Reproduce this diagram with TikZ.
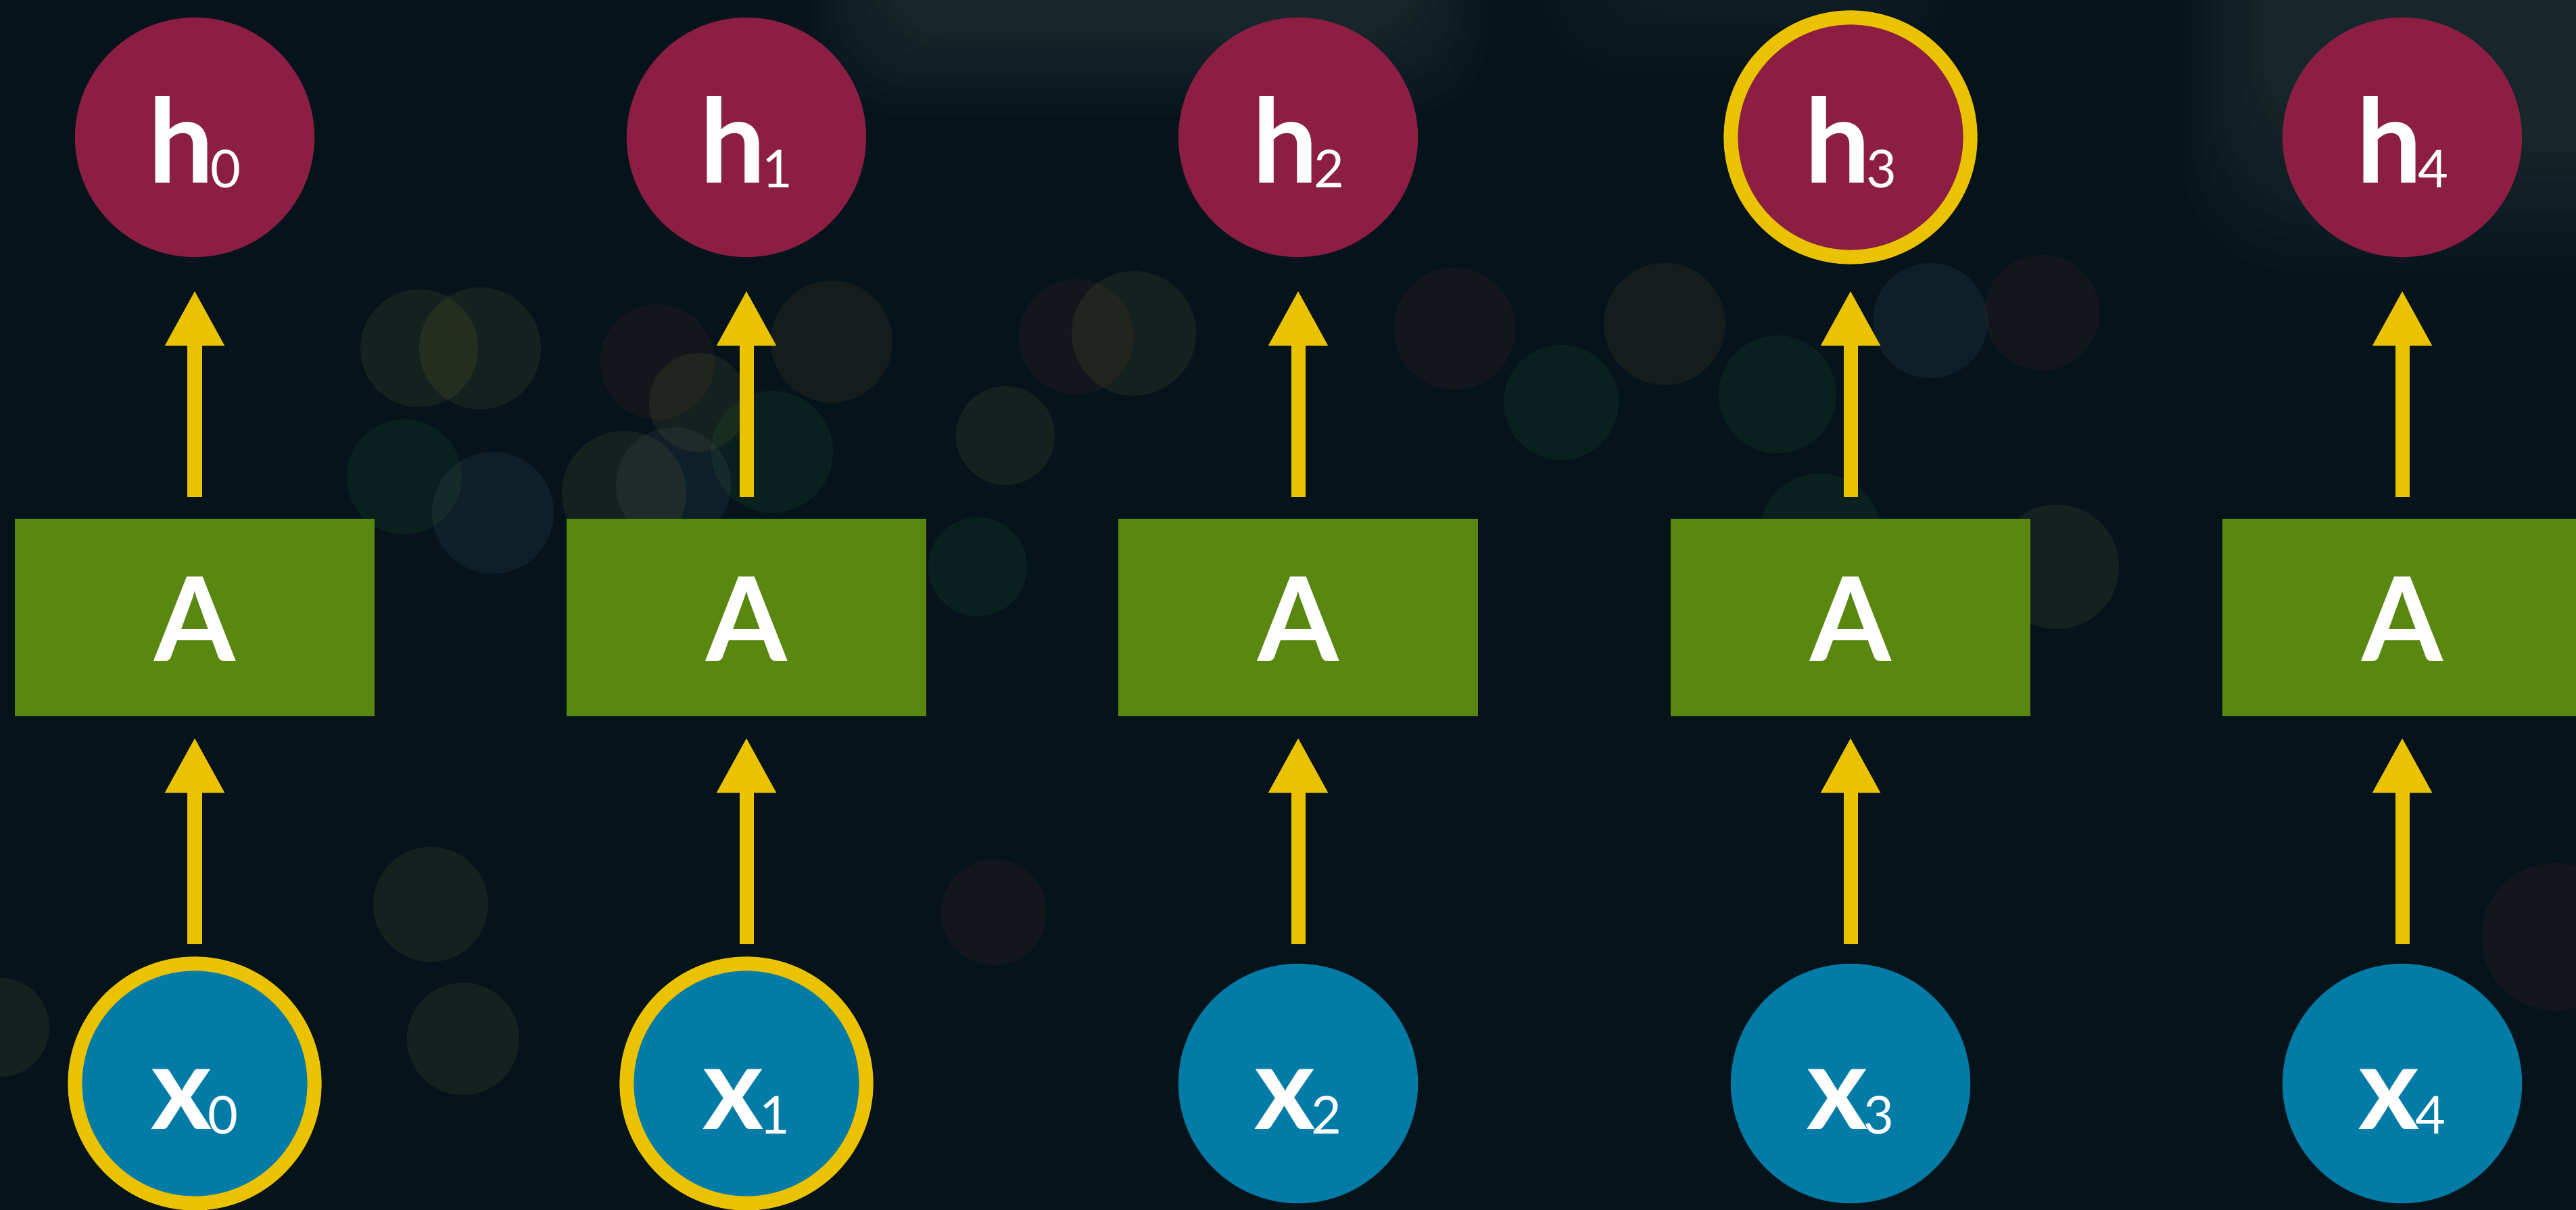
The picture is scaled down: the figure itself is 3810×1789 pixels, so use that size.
\documentclass[tikz,border=0pt]{standalone}
\usepackage{fontspec}
\setmainfont{Lato}
\usetikzlibrary{arrows.meta}
\definecolor{bg}{HTML}{05131B}
\definecolor{hred}{HTML}{8B1E42}
\definecolor{agreen}{HTML}{5D8C0F}
\definecolor{xblue}{HTML}{027BA6}
\definecolor{gold}{HTML}{EBC200}
\definecolor{bkY}{HTML}{C8C040}
\definecolor{bkR}{HTML}{B04030}
\definecolor{bkG}{HTML}{40B040}
\definecolor{bkB}{HTML}{80A0B0}
\definecolor{bkO}{HTML}{C08030}
\definecolor{glow}{HTML}{7A8A88}
\newcommand{\subsc}[1]{\kern-0.06cm\raisebox{-0.07cm}{\fontsize{22}{22}\mdseries\selectfont #1}}
\tikzset{
  hnode/.style={circle, fill=hred, minimum size=3.54cm, inner sep=0pt, outer sep=0pt,
    text=white, font=\fontsize{49}{50}\selectfont\bfseries, text height=1.34cm, text depth=0pt},
  xnode/.style={circle, fill=xblue, minimum size=3.54cm, inner sep=0pt, outer sep=0pt,
    text=white, font=\fontsize{49}{50}\selectfont\bfseries, text height=1.34cm, text depth=0pt},
  abox/.style={rectangle, fill=agreen, fill opacity=0.96, text opacity=1, minimum width=5.32cm, minimum height=2.92cm,
    inner sep=0pt, outer sep=0pt, text=white, font=\fontsize{49}{50}\selectfont\bfseries,
    text height=1.28cm, text depth=0pt},
  ring/.style={draw=gold, line width=0.21cm},
  arr/.style={draw=gold, line width=0.21cm, -{Triangle[width=0.82cm,length=0.82cm]}},
  upper/.style={shorten <=0.32cm, shorten >=0.49cm},
  lower/.style={shorten <=0.29cm, shorten >=0.31cm},
  bokeh/.style={fill opacity=0.085}
}
\begin{document}
\begin{tikzpicture}[x=0.01cm,y=-0.01cm]
\useasboundingbox (0,0) rectangle (3810,1789);
\fill[bg] (0,0) rectangle (3810,1789);
\clip (0,0) rectangle (3810,1789);
% soft light glows along the top (stacked to fake a blur)
\foreach \k in {0,...,9}{
  \fill[glow, fill opacity=0.018, rounded corners=1.2cm]
    (1200+\k*12,-150) rectangle (2200-\k*12,170-\k*14);
  \fill[glow, fill opacity=0.014, rounded corners=1cm]
    (2280+\k*12,-150) rectangle (2880-\k*12,110-\k*12);
  \fill[glow, fill opacity=0.018, rounded corners=1.6cm]
    (3230+\k*14,-150) rectangle (3950,400-\k*22);
}
% bokeh lights
\foreach \cx/\cy/\r/\c in {
  620/515/87/bkY, 710/515/90/bkY, 598/705/85/bkG, 729/758/90/bkB,
  972/535/85/bkR, 1033/595/73/bkY, 1230/505/90/bkO, 1142/668/90/bkG,
  923/729/92/bkY, 996/717/85/bkB, 637/1337/85/bkY, 685/1536/83/bkY,
  1592/498/85/bkR, 1677/493/92/bkY, 2151/486/90/bkR, 2309/595/85/bkG,
  2462/479/90/bkO, 2629/583/87/bkG, 2692/790/90/bkG, 3020/462/85/bkR,
  2855/474/85/bkB, 3042/838/92/bkY, 0/1519/73/bkY, 1470/1349/78/bkR,
  1446/838/73/bkG, 3779/1385/109/bkR, 1487/644/73/bkY}
  \fill[\c, bokeh] (\cx,\cy) circle[radius=\r*0.01cm];

% nodes
\node[hnode] (h0) at (288,203) {h\subsc{0}};
\node[hnode] (h1) at (1104,203) {h\subsc{1}};
\node[hnode] (h2) at (1920,203) {h\subsc{2}};
\node[hnode, ring] (h3) at (2737,203) {h\subsc{3}};
\node[hnode] (h4) at (3553,203) {h\subsc{4}};

\node[abox] (a0) at (288,913) {A};
\node[abox] (a1) at (1104,913) {A};
\node[abox] (a2) at (1920,913) {A};
\node[abox] (a3) at (2737,913) {A};
\node[abox] (a4) at (3553,913) {A};

\node[xnode, ring] (x0) at (288,1602) {x\subsc{0}};
\node[xnode, ring] (x1) at (1104,1602) {x\subsc{1}};
\node[xnode] (x2) at (1920,1602) {x\subsc{2}};
\node[xnode] (x3) at (2737,1602) {x\subsc{3}};
\node[xnode] (x4) at (3553,1602) {x\subsc{4}};

% connectors
\foreach \i in {0,...,4}{
  \draw[arr, upper] (a\i.north) -- (h\i.south);
  \draw[arr, lower] (x\i.north) -- (a\i.south);
}
\end{tikzpicture}
\end{document}
